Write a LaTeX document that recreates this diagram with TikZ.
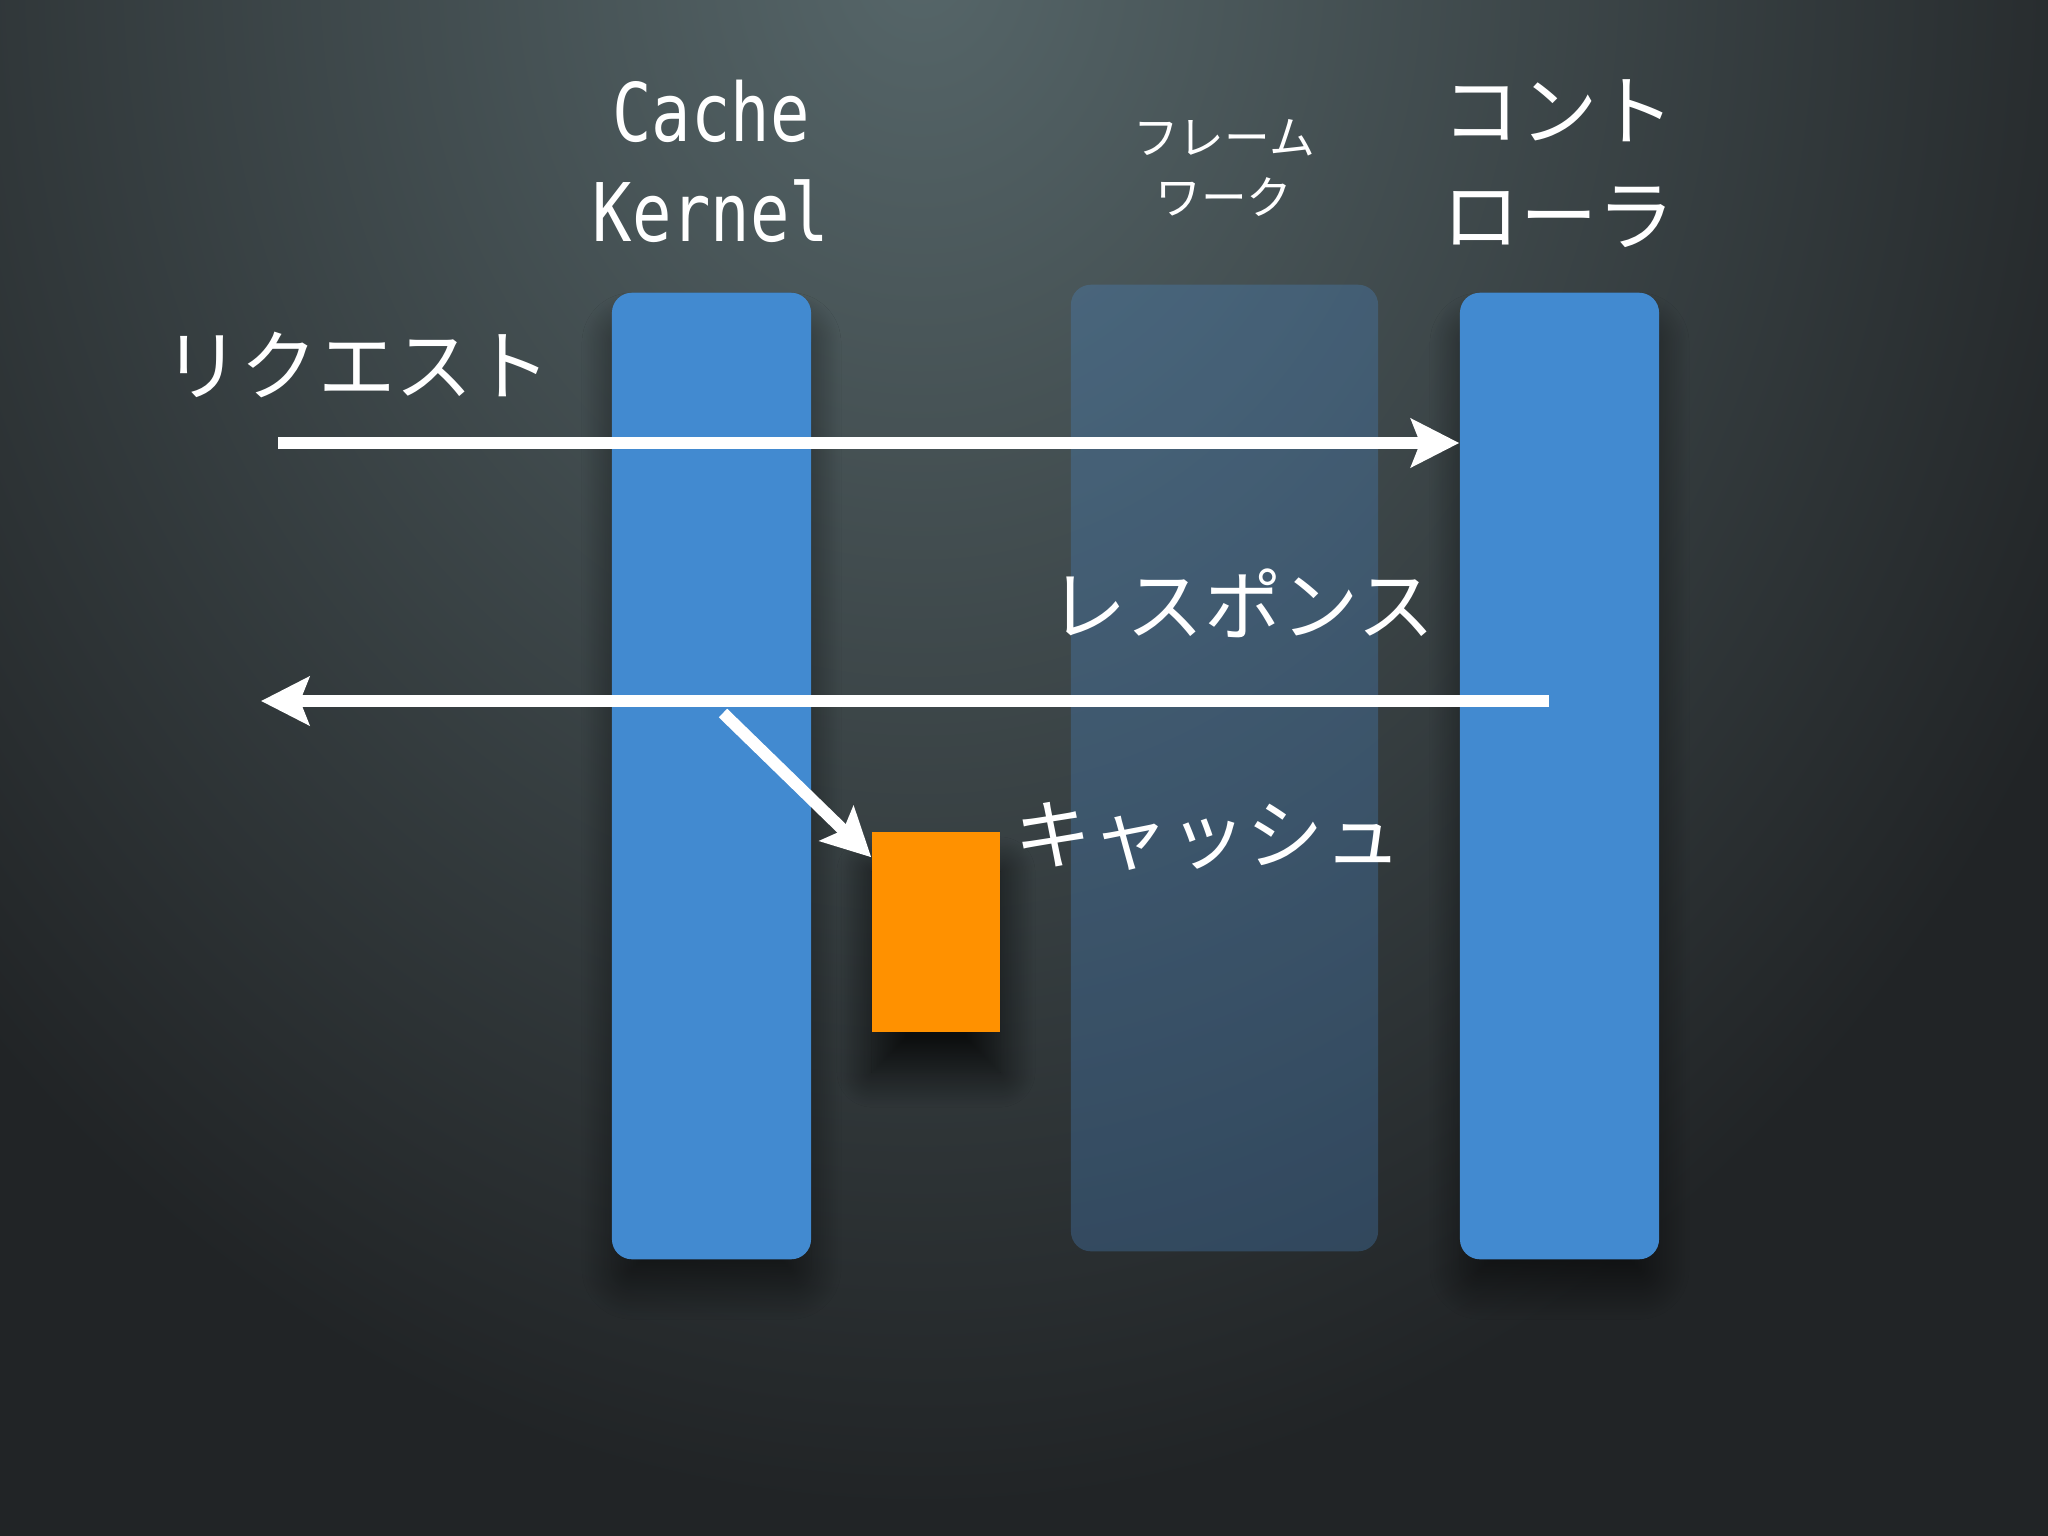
\documentclass[tikz,border=0pt]{standalone}
\usepackage{fontspec}
\newfontfamily\jpfont{Noto Sans CJK JP}
\newfontfamily\kernfont[FakeStretch=0.81]{DejaVu Sans Mono}
\usetikzlibrary{arrows.meta, shadows.blur, positioning, calc}
\definecolor{bgdark}{HTML}{212426}
\definecolor{bglight}{HTML}{566669}
\definecolor{colblue}{HTML}{428AD0}
\definecolor{fwblue}{HTML}{4A86C5}
\definecolor{cacheorange}{HTML}{FF9100}
\tikzset{
    bar/.style={draw=none, fill=colblue, rounded corners=0.2cm, inner sep=0pt,
        minimum width=1.99cm, minimum height=9.66cm,
        blur shadow={shadow xshift=0cm, shadow yshift=-0.3cm, shadow blur radius=0.3cm, shadow blur steps=25, shadow opacity=50}},
    fwbar/.style={draw=none, fill=fwblue, fill opacity=0.32, rounded corners=0.2cm, inner sep=0pt,
        minimum width=3.07cm, minimum height=9.66cm},
    cachebox/.style={draw=none, fill=cacheorange, inner sep=0pt, minimum width=1.28cm, minimum height=2cm,
        blur shadow={shadow xshift=0cm, shadow yshift=-0.4cm, shadow blur radius=0.35cm, shadow blur steps=25, shadow opacity=75}},
    lbl/.style={text=white, inner sep=0pt, align=center},
    jpbig/.style={lbl, font=\jpfont\fontsize{22}{30}\selectfont},
    flow/.style={draw=white, line width=0.12cm, -{Stealth[length=0.48cm, width=0.48cm, inset=0.09cm]}}
}
\begin{document}
\begin{tikzpicture}[x=0.01cm, y=-0.01cm]
    % background
    \useasboundingbox (0,0) rectangle (2048,1536);
    \fill[bgdark] (0,0) rectangle (2048,1536);
    \begin{scope}
    \clip (0,0) rectangle (2048,1536);
    \shade[inner color=bglight, outer color=bgdark] (920,-40) ellipse (1300 and 1550);
    \end{scope}
    % columns
    \node[bar] (kernel) at (711.5,776) {};
    \node[bar] (ctrl) at (1559.5,776) {};
    \node[fwbar] (framework) at (1224.5,768) {};
    \node[cachebox] (cache) at (936,932) {};
    % labels
    \node[lbl, font=\kernfont\fontsize{23}{28.5}\selectfont] (kernellbl) at (711,161) {Cache\\Kernel};
    \node[lbl, font=\jpfont\fontsize{13}{16.8}\selectfont] (fwlbl) at (1224,168) {フレーム\\ワーク};
    \node[jpbig, font=\jpfont\fontsize{22}{29.9}\selectfont] (ctrllbl) at (1559,164) {コント\\ローラ};
    \node[jpbig] (reqlbl) at (357,365) {リクエスト};
    \node[jpbig] (reslbl) at (1242,603) {レスポンス};
    \node[jpbig] (cachelbl) at (1208,836) {キャッシュ};
    % arrows
    \coordinate (reqstart) at (278,443);
    \coordinate (resstart) at (1549,701);
    \coordinate (resend) at (261,701);
    \coordinate (storestart) at (723,713);
    \draw[flow] (reqstart) -- (reqstart -| ctrl.west);
    \draw[flow] (resstart) -- (resend);
    \draw[flow] (storestart) -- ($(cache.north west)+(0,26)$);
\end{tikzpicture}
\end{document}
